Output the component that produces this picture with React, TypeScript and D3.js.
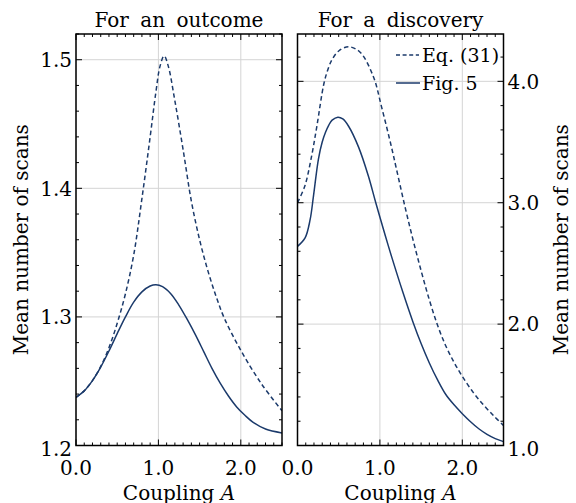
import React from "react";
import * as d3 from "d3";

// ---- Data ----
const outcomeEqX = [0, 0.1, 0.2, 0.3, 0.4, 0.5, 0.6, 0.7, 0.8, 0.9, 0.97, 1.02, 1.07, 1.12, 1.2, 1.3, 1.4, 1.5, 1.6, 1.7, 1.8, 2.0, 2.25, 2.5];
const outcomeEqY = [1.2374, 1.2425, 1.2505, 1.2615, 1.276, 1.295, 1.318, 1.348, 1.392, 1.44, 1.475, 1.495, 1.503, 1.495, 1.468, 1.43, 1.39, 1.36, 1.336, 1.316, 1.299, 1.274, 1.248, 1.227];
const outcomeFigX = [0, 0.1, 0.2, 0.3, 0.4, 0.5, 0.6, 0.7, 0.8, 0.9, 0.97, 1.05, 1.15, 1.25, 1.35, 1.45, 1.55, 1.65, 1.75, 1.85, 1.95, 2.05, 2.15, 2.3, 2.5];
const outcomeFigY = [1.2374, 1.2425, 1.2505, 1.261, 1.2735, 1.287, 1.3, 1.3115, 1.3195, 1.324, 1.325, 1.3235, 1.318, 1.309, 1.298, 1.286, 1.273, 1.26, 1.2485, 1.2385, 1.23, 1.2235, 1.218, 1.2128, 1.2098];

const discEqX = [0, 0.09, 0.17, 0.235, 0.32, 0.37, 0.42, 0.5, 0.62, 0.76, 0.92, 1.02, 1.14, 1.2, 1.3, 1.4, 1.5, 1.6, 1.7, 1.8, 1.9, 2.0, 2.13, 2.25, 2.38, 2.5];
const discEqY = [3.0, 3.14, 3.38, 3.63, 3.98, 4.1, 4.18, 4.25, 4.285, 4.24, 4.04, 3.79, 3.46, 3.28, 2.98, 2.7, 2.44, 2.2, 1.99, 1.82, 1.685, 1.57, 1.44, 1.34, 1.245, 1.165];
const discFigX = [0, 0.092, 0.153, 0.193, 0.254, 0.3, 0.34, 0.38, 0.42, 0.49, 0.55, 0.62, 0.74, 0.86, 0.95, 1.065, 1.14, 1.28, 1.4, 1.5, 1.6, 1.7, 1.8, 1.9, 2.0, 2.1, 2.2, 2.3, 2.4, 2.5];
const discFigY = [2.64, 2.71, 2.86, 3.05, 3.36, 3.5, 3.58, 3.64, 3.68, 3.705, 3.69, 3.63, 3.46, 3.22, 3.0, 2.73, 2.56, 2.26, 2.02, 1.84, 1.68, 1.54, 1.42, 1.335, 1.262, 1.196, 1.138, 1.092, 1.057, 1.032];

const xTicks = [0, 1, 2];
const xTickLabels = ["0.0", "1.0", "2.0"];
const yLeftTicks = [1.2, 1.3, 1.4, 1.5];
const yLeftLabels = ["1.2", "1.3", "1.4", "1.5"];
const yRightTicks = [1, 2, 3, 4];
const yRightLabels = ["1.0", "2.0", "3.0", "4.0"];
const titles = ["For an outcome", "For a discovery"];
const legendLabels = ["Eq. (31)", "Fig. 5"];

const FONT = "'DejaVu Serif', serif";
const LINE = "#1b3a6b";
const GRID = "#d4d4d4";
const FS = 20;

const range = (a: number, b: number, s: number) => {
  const out: number[] = [];
  for (let v = a; v <= b + 1e-9; v += s) out.push(Math.round(v * 1000) / 1000);
  return out;
};

type PanelProps = {
  x: d3.ScaleLinear<number, number>;
  y: d3.ScaleLinear<number, number>;
  yMajor: number[];
  yMinor: number[];
  yLabels: string[];
  labelSide: "left" | "right";
  title: string;
  eqX: number[];
  eqY: number[];
  figX: number[];
  figY: number[];
  legend?: boolean;
};

function Panel(p: PanelProps) {
  const { x, y } = p;
  const [x0, x1] = x.range();
  const [y0, y1] = y.range(); // y0 bottom, y1 top
  const xMinor = range(0, 2.5, 0.1).filter((v) => Math.abs(v - Math.round(v)) > 1e-6);
  const line = (xs: number[], ys: number[]) =>
    d3
      .line<number>()
      .x((_, i) => x(xs[i]))
      .y((_, i) => y(ys[i]))
      .curve(d3.curveCatmullRom.alpha(0.5))(xs) || "";
  const cx = (x0 + x1) / 2;
  const clipId = "clip" + Math.round(x0);
  return (
    <g>
      <defs>
        <clipPath id={clipId}>
          <rect x={x0} y={y1} width={x1 - x0} height={y0 - y1} />
        </clipPath>
      </defs>
      {/* grid */}
      {xTicks.map((t) => (
        <line key={"gx" + t} x1={x(t)} x2={x(t)} y1={y0} y2={y1} stroke={GRID} strokeWidth={1} />
      ))}
      {p.yMajor.map((t) => (
        <line key={"gy" + t} x1={x0} x2={x1} y1={y(t)} y2={y(t)} stroke={GRID} strokeWidth={1} />
      ))}
      {/* curves */}
      <g clipPath={`url(#${clipId})`}>
        <path d={line(p.eqX, p.eqY)} fill="none" stroke={LINE} strokeWidth={1.5} strokeDasharray="4.5,3" />
        <path d={line(p.figX, p.figY)} fill="none" stroke={LINE} strokeWidth={1.5} />
      </g>
      {/* ticks */}
      {xTicks.map((t) => (
        <g key={"tx" + t}>
          <line x1={x(t)} x2={x(t)} y1={y0} y2={y0 - 6} stroke="#000" strokeWidth={1} />
          <line x1={x(t)} x2={x(t)} y1={y1} y2={y1 + 6} stroke="#000" strokeWidth={1} />
        </g>
      ))}
      {xMinor.map((t) => (
        <g key={"mx" + t}>
          <line x1={x(t)} x2={x(t)} y1={y0} y2={y0 - 3} stroke="#000" strokeWidth={1} />
          <line x1={x(t)} x2={x(t)} y1={y1} y2={y1 + 3} stroke="#000" strokeWidth={1} />
        </g>
      ))}
      {p.yMajor.map((t) => (
        <g key={"ty" + t}>
          <line x1={x0} x2={x0 + 6} y1={y(t)} y2={y(t)} stroke="#000" strokeWidth={1} />
          <line x1={x1} x2={x1 - 6} y1={y(t)} y2={y(t)} stroke="#000" strokeWidth={1} />
        </g>
      ))}
      {p.yMinor.map((t) => (
        <g key={"my" + t}>
          <line x1={x0} x2={x0 + 3} y1={y(t)} y2={y(t)} stroke="#000" strokeWidth={1} />
          <line x1={x1} x2={x1 - 3} y1={y(t)} y2={y(t)} stroke="#000" strokeWidth={1} />
        </g>
      ))}
      {/* frame */}
      <rect x={x0} y={y1} width={x1 - x0} height={y0 - y1} fill="none" stroke="#000" strokeWidth={1.5} />
      {/* tick labels */}
      {xTicks.map((t, i) => (
        <text key={"lx" + t} x={x(t)} y={y0 + 29} textAnchor="middle" fontFamily={FONT} fontSize={FS}>
          {xTickLabels[i]}
        </text>
      ))}
      {p.yMajor.map((t, i) => (
        <text
          key={"ly" + t}
          x={p.labelSide === "left" ? x0 - 4 : x1 + 4}
          y={y(t) + (i === 0 ? 3 : 0)}
          dy="0.36em"
          textAnchor={p.labelSide === "left" ? "end" : "start"}
          fontFamily={FONT}
          fontSize={FS}
        >
          {p.yLabels[i]}
        </text>
      ))}
      {/* title */}
      <text x={cx} y={y1 - 7} textAnchor="middle" fontFamily={FONT} fontSize={FS} wordSpacing={5}>
        {p.title}
      </text>
      {/* x label */}
      <text x={cx} y={y0 + 54} textAnchor="middle" fontFamily={FONT} fontSize={FS}>
        Coupling <tspan fontStyle="italic">A</tspan>
      </text>
      {p.legend && (
        <g>
          <line x1={396} x2={419} y1={55} y2={55} stroke={LINE} strokeWidth={1.5} strokeDasharray="4,2.6" />
          <text x={422} y={55} dy="0.36em" fontFamily={FONT} fontSize={19}>
            {legendLabels[0]}
          </text>
          <line x1={396} x2={420} y1={83} y2={83} stroke={LINE} strokeWidth={1.5} />
          <text x={422} y={83} dy="0.36em" fontFamily={FONT} fontSize={19}>
            {legendLabels[1]}
          </text>
        </g>
      )}
    </g>
  );
}

export default function App() {
  const top = 34;
  const bottom = 445.5;
  const xL = d3.scaleLinear().domain([0, 2.5]).range([76, 282]);
  const xR = d3.scaleLinear().domain([0, 2.5]).range([297.5, 503.5]);
  const yL = d3.scaleLinear().domain([1.2, 1.52]).range([bottom, top]);
  const yR = d3.scaleLinear().domain([1.0, 4.39]).range([bottom, top]);
  const yLMinor = range(1.2, 1.52, 0.02).filter((v) => !yLeftTicks.some((t) => Math.abs(t - v) < 1e-6));
  const yRMinor = range(1.0, 4.39, 0.2).filter((v) => !yRightTicks.some((t) => Math.abs(t - v) < 1e-6));
  const midY = (top + bottom) / 2;
  return (
    <svg width={576} height={503} style={{ position: "absolute", left: 0, top: 0, background: "#fff" }}>
      <rect width={576} height={503} fill="#fff" />
      <Panel
        x={xL}
        y={yL}
        yMajor={yLeftTicks}
        yMinor={yLMinor}
        yLabels={yLeftLabels}
        labelSide="left"
        title={titles[0]}
        eqX={outcomeEqX}
        eqY={outcomeEqY}
        figX={outcomeFigX}
        figY={outcomeFigY}
      />
      <Panel
        x={xR}
        y={yR}
        yMajor={yRightTicks}
        yMinor={yRMinor}
        yLabels={yRightLabels}
        labelSide="right"
        title={titles[1]}
        eqX={discEqX}
        eqY={discEqY}
        figX={discFigX}
        figY={discFigY}
        legend
      />
      <text transform={`translate(28,${midY}) rotate(-90)`} textAnchor="middle" fontFamily={FONT} fontSize={FS}>
        Mean number of scans
      </text>
      <text transform={`translate(568,${midY}) rotate(-90)`} textAnchor="middle" fontFamily={FONT} fontSize={FS}>
        Mean number of scans
      </text>
    </svg>
  );
}
